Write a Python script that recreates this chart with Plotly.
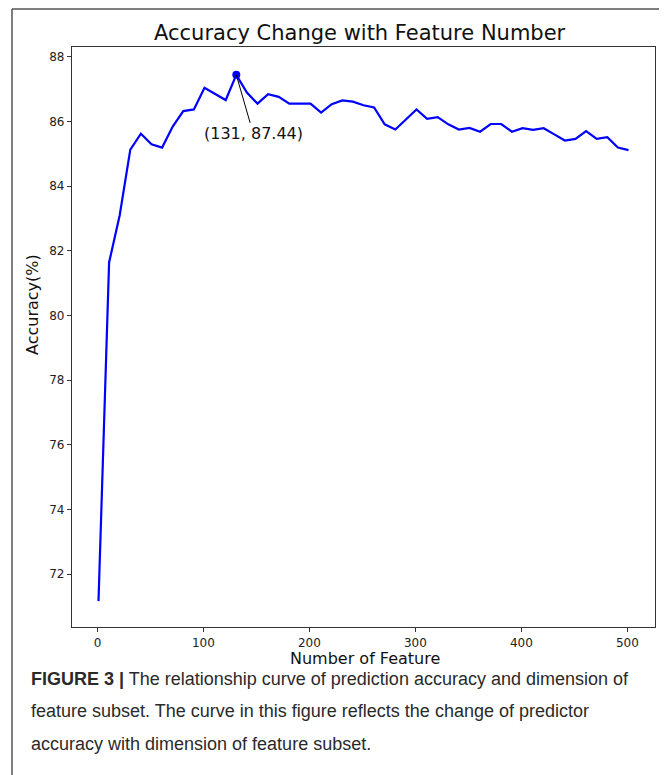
import plotly.graph_objects as go

feature_num = [1, 11, 21, 31, 41, 51, 61, 71, 81, 91,
               101, 111, 121, 131, 141, 151, 161, 171, 181, 191,
               201, 211, 221, 231, 241, 251, 261, 271, 281, 291,
               301, 311, 321, 331, 341, 351, 361, 371, 381, 391,
               401, 411, 421, 431, 441, 451, 461, 471, 481, 491, 501]
accuracy = [71.17, 81.64, 83.10, 85.13, 85.62, 85.29, 85.19, 85.84, 86.32, 86.37,
            87.04, 86.84, 86.66, 87.44, 86.89, 86.55, 86.84, 86.76, 86.55, 86.55,
            86.55, 86.27, 86.53, 86.65, 86.61, 86.50, 86.43, 85.91, 85.75, 86.06,
            86.37, 86.08, 86.13, 85.91, 85.75, 85.80, 85.68, 85.92, 85.92, 85.68,
            85.79, 85.74, 85.79, 85.60, 85.41, 85.46, 85.70, 85.46, 85.51, 85.19, 85.11]
peak_x = [131]
peak_y = [87.44]
x_ticks = [0, 100, 200, 300, 400, 500]
y_ticks = [72, 74, 76, 78, 80, 82, 84, 86, 88]

title_text = "Accuracy Change with Feature Number"
x_title = "Number of Feature"
y_title = "Accuracy(%)"
caption_lines = [
    "<b>FIGURE 3 |</b> The relationship curve of prediction accuracy and dimension of",
    "feature subset. The curve in this figure reflects the change of predictor",
    "accuracy with dimension of feature subset.",
]

OFF = 8  # page body margin
W, H = 667 - OFF, 775 - OFF
L, T = 72 - OFF, 47 - OFF
R = W - (655 - OFF)
B = H - (627 - OFF)
PW = W - L - R
PH = H - T - B


def px(xp):
    return (xp - OFF - L) / PW


def py(yp):
    return (H - B - (yp - OFF)) / PH


MPL = "DejaVu Sans, sans-serif"
CAP = "Liberation Sans, Arial, sans-serif"

fig = go.Figure()
fig.add_trace(go.Scatter(x=feature_num, y=accuracy, mode="lines",
                         line=dict(color="#0000ff", width=2.2), hoverinfo="skip"))
fig.add_trace(go.Scatter(x=peak_x, y=peak_y, mode="markers",
                         marker=dict(color="#0000ff", size=8), hoverinfo="skip"))

fig.add_annotation(x=peak_x[0], y=peak_y[0], xref="x", yref="y",
                   text="(%d, %.2f)" % (peak_x[0], peak_y[0]),
                   showarrow=True, arrowhead=0, arrowwidth=1, arrowcolor="#000",
                   ax=17, ay=59, standoff=0,
                   font=dict(family=MPL, size=16, color="#111"))

anns = [
    dict(text=title_text, x=px(360), y=py(33), xanchor="center", yanchor="middle",
         font=dict(family=MPL, size=21, color="#111")),
    dict(text=x_title, x=px(365), y=py(658), xanchor="center", yanchor="middle",
         font=dict(family=MPL, size=16, color="#111")),
    dict(text=y_title, x=px(32), y=py(305), xanchor="center", yanchor="middle",
         textangle=-90, font=dict(family=MPL, size=16, color="#111")),
]
for line, yc in zip(caption_lines, [679, 711, 744]):
    anns.append(dict(text=line, x=px(29), y=py(yc), xanchor="left", yanchor="middle",
                     font=dict(family=CAP, size=18, color="#2a2a2a")))
for a in anns:
    fig.add_annotation(xref="paper", yref="paper", showarrow=False, **a)

# outer frame (top and left edges)
fig.add_shape(type="line", xref="paper", yref="paper",
              x0=px(12), x1=px(667 + 5), y0=py(9), y1=py(9),
              line=dict(color="#555", width=1.5))
fig.add_shape(type="line", xref="paper", yref="paper",
              x0=px(12), x1=px(12), y0=py(9), y1=py(775 + 5),
              line=dict(color="#555", width=1.5))

axis_common = dict(showline=True, mirror=True, linecolor="#333", linewidth=1.2,
                   showgrid=False, zeroline=False, ticks="outside", ticklen=4,
                   tickwidth=1, tickcolor="#333",
                   tickfont=dict(family=MPL, size=12, color="#222"))
fig.update_xaxes(range=[-24, 526], tickvals=x_ticks, **axis_common)
fig.update_yaxes(range=[70.37, 88.3], tickvals=y_ticks, **axis_common)

fig.update_layout(width=W, height=H, margin=dict(l=L, r=R, t=T, b=B),
                  paper_bgcolor="white", plot_bgcolor="white", showlegend=False)

fig.write_html("out.html")
